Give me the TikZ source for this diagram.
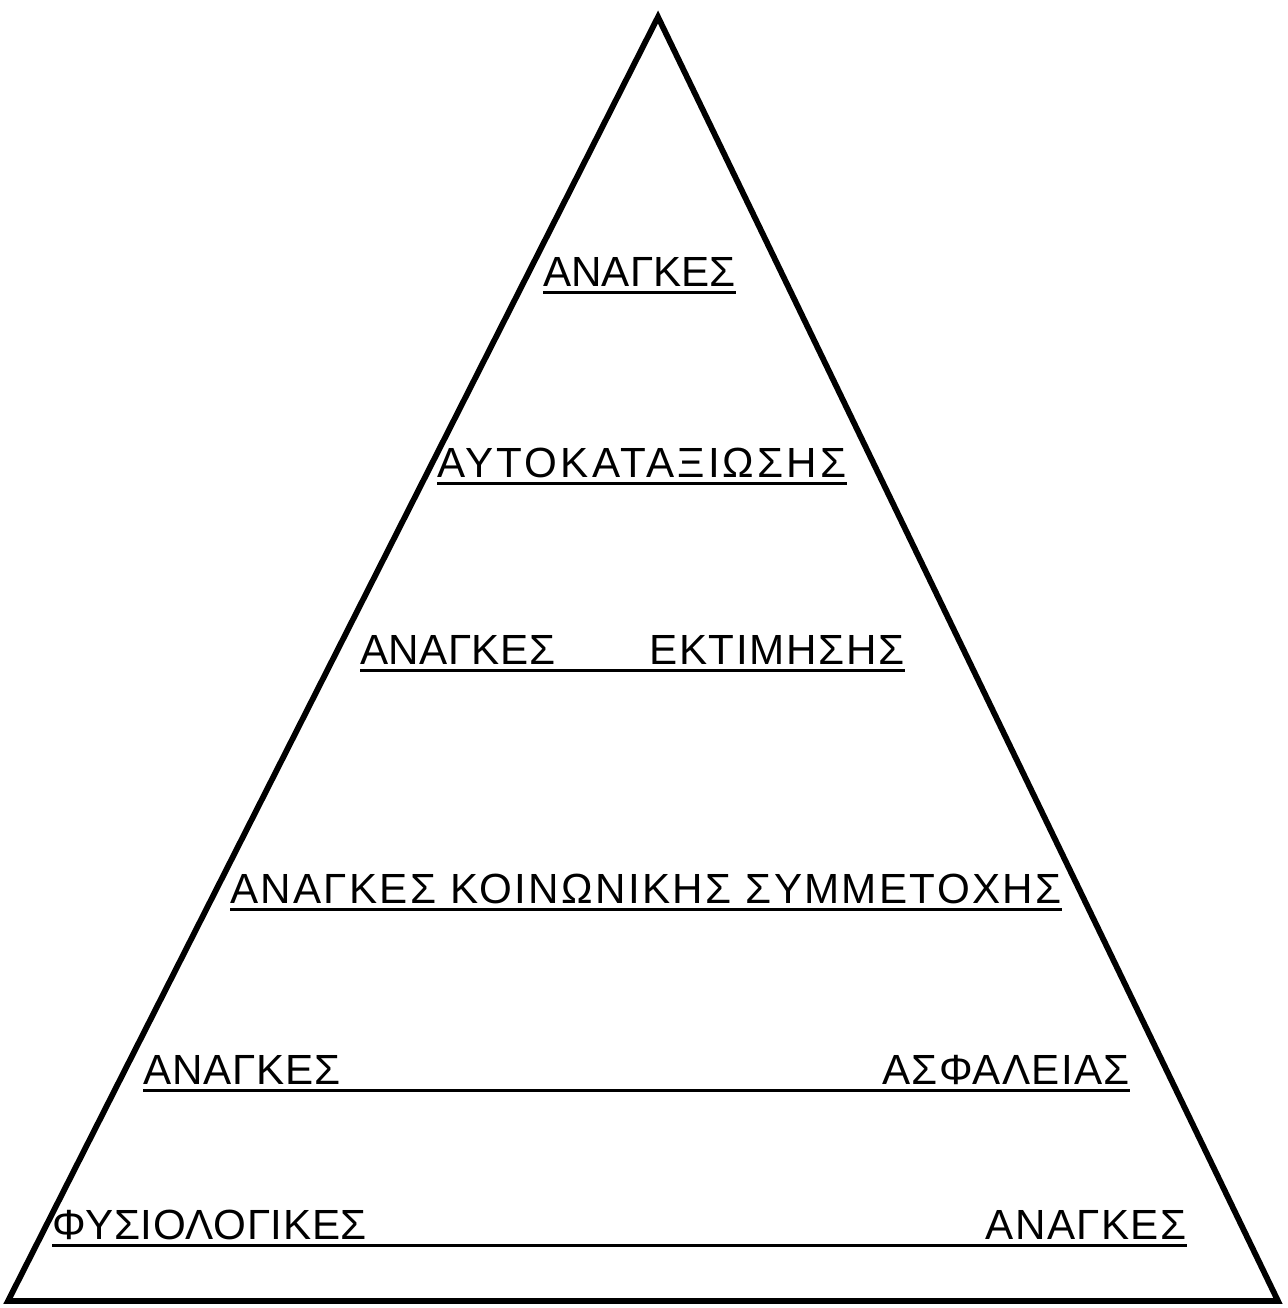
\documentclass[tikz,border=0pt]{standalone}
\usepackage{fontspec}
\setmainfont{Liberation Sans}
\begin{document}
\begin{tikzpicture}[x=0.2mm,y=-0.2mm,
  level/.style={inner sep=0pt,font=\fontsize{24}{28}\selectfont},
  wide/.style={font=\fontsize{24}{28}\selectfont\addfontfeature{LetterSpace=#1}},
  uline/.style={line width=1.7pt},
  edge/.style={line width=3.3pt,line join=miter}]
\useasboundingbox (0,0) rectangle (1288,1308);
\coordinate (apex) at (658,17);
\coordinate (bl) at (8,1301);
\coordinate (br) at (1278,1301);
\draw[edge] (apex) -- (br) -- (bl) -- cycle;
\node[level,anchor=base west] (top) at (543,286) {ΑΝΑΓΚΕΣ};
\node[level,wide=7.5,anchor=base west] (selfact) at (437,477) {ΑΥΤΟΚΑΤΑΞΙΩΣΗΣ};
\node[level,wide=1,anchor=base west] (esteemL) at (360,664) {ΑΝΑΓΚΕΣ};
\node[level,wide=4,anchor=base east] (esteemR) at (905,664) {ΕΚΤΙΜΗΣΗΣ};
\node[level,wide=5.5,anchor=base west] (social) at (230,903) {ΑΝΑΓΚΕΣ ΚΟΙΝΩΝΙΚΗΣ ΣΥΜΜΕΤΟΧΗΣ};
\node[level,wide=2,anchor=base west] (safetyL) at (143,1084) {ΑΝΑΓΚΕΣ};
\node[level,wide=3,anchor=base east] (safetyR) at (1130,1084) {ΑΣΦΑΛΕΙΑΣ};
\node[level,wide=1.5,anchor=base west] (physL) at (52,1239) {ΦΥΣΙΟΛΟΓΙΚΕΣ};
\node[level,wide=3.5,anchor=base east] (physR) at (1187,1239) {ΑΝΑΓΚΕΣ};
% underlines
\draw[uline] ([yshift=-3.5pt]top.base west) -- ([yshift=-3.5pt]top.base east);
\draw[uline] ([yshift=-3.5pt]selfact.base west) -- ([yshift=-3.5pt]selfact.base east);
\draw[uline] ([yshift=-3.5pt]esteemL.base west) -- ([yshift=-3.5pt]esteemR.base east);
\draw[uline] ([yshift=-3.5pt]social.base west) -- ([yshift=-3.5pt]social.base east);
\draw[uline] ([yshift=-3.5pt]safetyL.base west) -- ([yshift=-3.5pt]safetyR.base east);
\draw[uline] ([yshift=-3.5pt]physL.base west) -- ([yshift=-3.5pt]physR.base east);
\end{tikzpicture}
\end{document}
